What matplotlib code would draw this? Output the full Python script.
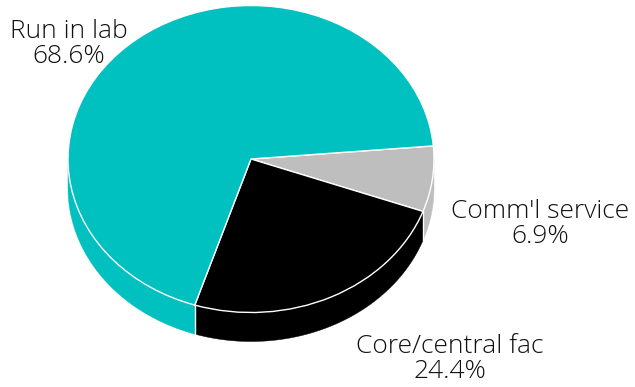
import numpy as np
import matplotlib
matplotlib.use("Agg")
import matplotlib.pyplot as plt
from matplotlib import font_manager as fm

# Share of instrument use, clockwise from the gray slice
categories = ["Comm'l service", "Core/central fac", "Run in lab"]
shares = [6.9, 24.4, 68.6]
colors = ["#BEBEBE", "#000000", "#00C0C0"]
start_angle = 4.9

W, H = 635, 387
CX, CY, RX, RY = 251, 159, 183, 153.5
DEPTH = 29 / RY

fig = plt.figure(figsize=(W / 100, H / 100), dpi=100)
ax = fig.add_axes([0, 0, 1, 1])

# Unit circle stretched into an ellipse through the axis limits
xlim = (-CX / RX, (W - CX) / RX)
ylim = ((CY - H) / RY, CY / RY)

# Side wall of the disc: only the part of each slice on the front half shows
fractions = np.array(shares) / sum(shares)
edges = start_angle - np.concatenate([[0], np.cumsum(fractions)]) * 360
for hi, lo, color in zip(edges[:-1], edges[1:], colors):
    for shift in (0, 360):
        a0, a1 = max(lo + shift, -180), min(hi + shift, 0)
        if a1 <= a0:
            continue
        t = np.radians(np.linspace(a0, a1, 200))
        xs = np.cos(t)
        ys = np.sin(t)
        ax.fill(np.r_[xs, xs[::-1]], np.r_[ys, ys[::-1] - DEPTH],
                color=color, lw=0.3, zorder=1)
        # White seam where this slice's wall begins
        if -180 < a0 < 0:
            x0 = np.cos(np.radians(a0))
            y0 = np.sin(np.radians(a0))
            ax.plot([x0, x0], [y0, y0 - DEPTH], color="white", lw=1.0, zorder=2)

ax.pie(shares, colors=colors, startangle=start_angle, counterclock=False,
       radius=1, center=(0, 0),
       wedgeprops=dict(edgecolor="white", linewidth=1.0, zorder=3))
ax.set_aspect("auto")
ax.set_xlim(*xlim)
ax.set_ylim(*ylim)
ax.axis("off")

# Slice labels, placed in pixel terms around the disc
label_font = fm.FontProperties(family="Open Sans", weight="light", size=19)
label_xy = {"Comm'l service": (540, 224), "Core/central fac": (450, 359), "Run in lab": (69, 44)}
for name, share in zip(categories, shares):
    px, py = label_xy[name]
    ax.text((px - CX) / RX, (CY - py) / RY, f"{name}\n{share:.1f}%",
            ha="center", va="center", fontproperties=label_font, color="#111111",
            linespacing=0.97, zorder=5)

fig.savefig("out.png", dpi=100, facecolor="white")
